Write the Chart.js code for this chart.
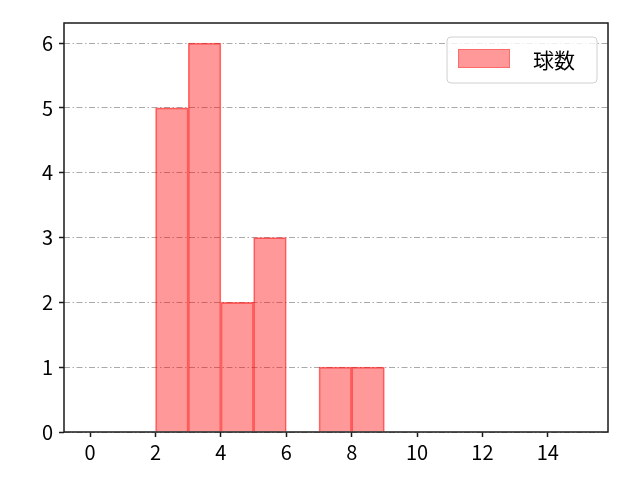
<!DOCTYPE html>
<html>
<head>
<meta charset="utf-8">
<script src="https://cdn.jsdelivr.net/npm/chart.js@4.4.1/dist/chart.umd.min.js"></script>
<style>
  html, body { margin: 0; padding: 0; background: #fff; }
  #wrap { width: 640px; height: 480px; }
</style>
</head>
<body>
<div id="wrap"><canvas id="myChart" width="640" height="480"></canvas></div>
<script>
// histogram bins (left edges, width 1) and counts
const binStarts = [2, 3, 4, 5, 6, 7, 8];
const counts = [5, 6, 2, 3, 0, 1, 1];
const seriesLabel = "球数";
const xTicks = [0, 2, 4, 6, 8, 10, 12, 14];
const yTicks = [0, 1, 2, 3, 4, 5, 6];

const FONT = "'Noto Sans CJK JP', 'Noto Sans', sans-serif";

// legend box drawn like matplotlib's, top-right inside the axes
const legendBox = {
  id: "legendBox",
  afterDraw(chart) {
    const ctx = chart.ctx;
    const a = chart.chartArea;
    const w = 150, h = 46;
    const x = a.right - 11 - w, y = a.top + 14;
    ctx.save();
    ctx.beginPath();
    ctx.roundRect(x, y, w, h, 4);
    ctx.fillStyle = "rgba(255,255,255,0.8)";
    ctx.fill();
    ctx.strokeStyle = "#d0d0d0";
    ctx.lineWidth = 1;
    ctx.stroke();
    const ds = chart.data.datasets[0];
    ctx.fillStyle = ds.backgroundColor;
    ctx.fillRect(x + 11, y + 12, 52, 19);
    ctx.strokeStyle = "rgba(255,0,0,0.3)";
    ctx.strokeRect(x + 11.5, y + 12.5, 51, 18);
    ctx.fillStyle = "#000";
    ctx.font = "21px " + FONT;
    ctx.textBaseline = "middle";
    ctx.fillText(ds.label, x + 86, y + 23);
    ctx.restore();
  }
};

// full black frame round the axes
const frame = {
  id: "frame",
  afterDraw(chart) {
    const ctx = chart.ctx;
    const a = chart.chartArea;
    ctx.save();
    ctx.strokeStyle = "#1a1a1a";
    ctx.lineWidth = 1.5;
    ctx.strokeRect(a.left, a.top, a.right - a.left, a.bottom - a.top);
    ctx.restore();
  }
};

const data = binStarts.map((b, i) => ({ x: b + 0.5, y: counts[i] }));

new Chart("myChart", {
  type: "bar",
  data: {
    datasets: [
      {
        label: seriesLabel,
        data: data,
        backgroundColor: "rgba(255,0,0,0.4)",
        borderColor: "rgba(255,0,0,0.55)",
        borderWidth: 1,
        barPercentage: 1,
        categoryPercentage: 1,
      },
    ],
  },
  options: {
    responsive: false,
    animation: false,
    layout: { padding: { top: 23, right: 32, left: 0, bottom: 0 } },
    plugins: { legend: { display: false }, tooltip: { enabled: false } },
    scales: {
      x: {
        type: "linear",
        offset: false,
        min: -0.8,
        max: 15.84,
        afterBuildTicks: (s) => { s.ticks = xTicks.map((v) => ({ value: v })); },
        afterFit: (s) => { s.height = 48; },
        ticks: { color: "#000", font: { family: FONT, size: 20 }, padding: 3, maxRotation: 0 },
        grid: { offset: false, drawOnChartArea: false, drawTicks: true, tickLength: 5, tickColor: "#1a1a1a", tickWidth: 1.5 },
        border: { display: false },
      },
      y: {
        z: 1,
        min: 0,
        max: 6.31,
        afterBuildTicks: (s) => { s.ticks = yTicks.map((v) => ({ value: v })); },
        afterFit: (s) => { s.width = 64; },
        ticks: { color: "#000", font: { family: FONT, size: 20 }, padding: 6 },
        grid: { color: "#aaaaaa", lineWidth: 1, tickLength: 5, tickColor: "#1a1a1a", tickWidth: 1.5 },
        border: { display: false, dash: [6, 2.5, 1.5, 2.5] },
      },
    },
  },
  plugins: [legendBox, frame],
});
</script>
</body>
</html>
